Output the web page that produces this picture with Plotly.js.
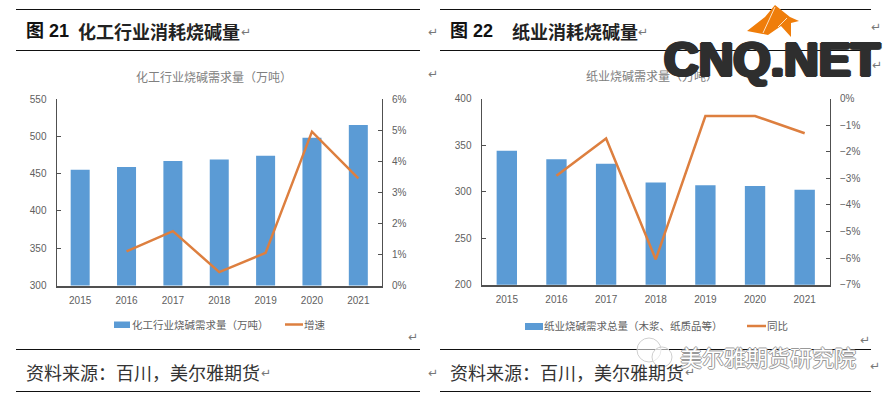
<!DOCTYPE html>
<html><head><meta charset="utf-8">
<script src="https://cdn.plot.ly/plotly-3.0.1.min.js"></script>
<style>html,body{margin:0;padding:0;background:#fff}#c{width:883px;height:395px}</style></head>
<body><div id="c"></div>
<script>
const years = ['2015','2016','2017','2018','2019','2020','2021'];
const chemDemand = [455,459,467,469,474,498,515];
const chemGrowth = [null,1.1,1.75,0.43,1.05,4.95,3.45];
const paperDemand = [344,335,330,310,307,306,302];
const paperYoy = [null,-2.9,-1.5,-6.05,-0.65,-0.65,-1.3];
const W=883,H=395;
const BLUE='#5b9bd5',ORANGE='#dd7f3f',AX='#505050',TXT='#606060';
const F='"Liberation Sans","Noto Sans CJK SC",sans-serif';
const CJK='"Noto Sans CJK SC","Liberation Sans",sans-serif';
const px=x=>x/W, py=y=>1-y/H;
function note(text,x,y,size,color,o){
  return Object.assign({text,x:px(x),y:py(y),xref:'paper',yref:'paper',showarrow:false,xanchor:'left',yanchor:'middle',
    font:{family:CJK,size,color},borderpad:0,borderwidth:0},o||{});
}
function line(x0,y0,x1,y1,color,width){
  return {type:'line',xref:'paper',yref:'paper',x0:px(x0),x1:px(x1),y0:py(y0),y1:py(y1),line:{color,width},layer:'below'};
}
function rect(x0,y0,x1,y1,color){
  return {type:'rect',xref:'paper',yref:'paper',x0:px(x0),x1:px(x1),y0:py(y0),y1:py(y1),fillcolor:color,line:{width:0},layer:'below'};
}
function poly(pts,fill,lineColor,lw){
  const d=pts.map((p,i)=>(i?'L':'M')+px(p[0]).toFixed(5)+','+py(p[1]).toFixed(5)).join(' ')+(fill?' Z':'');
  return {type:'path',xref:'paper',yref:'paper',path:d,fillcolor:fill||'rgba(0,0,0,0)',line:{color:lineColor||fill,width:lw||0},layer:'above'};
}
function circ(cx,cy,r,color){
  return {type:'circle',xref:'paper',yref:'paper',x0:px(cx-r),x1:px(cx+r),y0:py(cy+r),y1:py(cy-r),
    fillcolor:'rgba(255,255,255,0.55)',line:{color,width:1},layer:'above'};
}
const traces=[
 {type:'bar',x:years,y:chemDemand,name:'化工行业烧碱需求量（万吨）',marker:{color:BLUE},xaxis:'x',yaxis:'y',showlegend:false},
 {type:'scatter',mode:'lines',x:years,y:chemGrowth,name:'增速',line:{color:ORANGE,width:2.5},xaxis:'x',yaxis:'y2',showlegend:false},
 {type:'bar',x:years,y:paperDemand,name:'纸业烧碱需求总量（木浆、纸质品等）',marker:{color:BLUE},xaxis:'x2',yaxis:'y3',showlegend:false},
 {type:'scatter',mode:'lines',x:years,y:paperYoy,name:'同比',line:{color:ORANGE,width:2.5},xaxis:'x2',yaxis:'y4',showlegend:false}
];
const tick={family:F,size:10,color:TXT};
function xa(a,b,anchor){return {domain:[px(a),px(b)],anchor,type:'category',showgrid:false,zeroline:false,showline:true,linecolor:AX,linewidth:2,
  ticks:'',tickfont:tick,ticklabelstandoff:4,fixedrange:true};}
function ya(top,bot,range,dtick,side,anchor,extra){return Object.assign({domain:[py(bot),py(top)],range,dtick,anchor,side,showgrid:false,zeroline:false,showline:true,
  linecolor:AX,linewidth:1.5,ticks:'inside',ticklen:4,tickwidth:1,tickcolor:AX,tickfont:tick,ticklabelstandoff:7,fixedrange:true},extra||{});}
const layout={
 width:W,height:H,margin:{l:0,r:0,t:0,b:0},paper_bgcolor:'#fff',plot_bgcolor:'rgba(0,0,0,0)',bargap:0.59,showlegend:false,
 xaxis:xa(57,381.5,'y'),
 yaxis:ya(99,285.5,[300,550],50,'left','x'),
 yaxis2:ya(99,285.5,[0,6],1,'right','x',{overlaying:'y',ticksuffix:'%'}),
 xaxis2:xa(482,829.5,'y3'),
 yaxis3:ya(98.7,284.7,[200,400],50,'left','x2'),
 yaxis4:ya(98.7,284.7,[-7,0],1,'right','x2',{overlaying:'y3',ticksuffix:'%'}),
 shapes:[
  line(16,9.5,420,9.5,'#111',1),line(16,50.5,420,50.5,'#111',1),line(16,349.5,420,349.5,'#111',1),line(16,391.5,420,391.5,'#111',1),
  line(440,9.5,871,9.5,'#111',1),line(440,50.5,871,50.5,'#111',1),line(440,349.5,871,349.5,'#111',1),line(440,391.5,871,391.5,'#111',1),
  rect(114,321.5,130,328,BLUE),line(285,324.5,303,324.5,ORANGE,2.5),
  rect(525,323,543,330,BLUE),line(747,326,766,326,ORANGE,2.5),
  poly([[775,5],[790,17],[799,21],[791,23],[791,37],[781,26],[768,35],[747,31],[765,17]],'#ef7d0a'),
  poly([[775,7],[763,33]],null,'#fbe3c8',1),
  poly([[787,18],[778,27]],null,'#fbe3c8',1),
  circ(649,350,12,'#cfcfcf'),circ(662,357,10,'#cfcfcf')
 ],
 annotations:[
  note('图 21',26,31,18,'#111',{font:{family:F,size:18,color:'#111',weight:700}}),
  note('化工行业消耗烧碱量',78,31,18,'#222',{font:{family:CJK,size:18,color:'#222',weight:700}}),
  note('图 22',450,31,18,'#111',{font:{family:F,size:18,color:'#111',weight:700}}),
  note('纸业消耗烧碱量',512,31,18,'#222',{font:{family:CJK,size:18,color:'#222',weight:700}}),
  note('化工行业烧碱需求量（万吨）',214,76,12,'#808080',{xanchor:'center'}),
  note('纸业烧碱需求量（万吨）',652,75,12,'#808080',{xanchor:'center'}),
  note('化工行业烧碱需求量（万吨）',132,324,10.5,TXT),
  note('增速',303.5,324,10.5,TXT),
  note('纸业烧碱需求总量（木浆、纸质品等）',544,325.5,10.5,TXT),
  note('同比',767,325.5,10.5,TXT),
  note('资料来源：百川，美尔雅期货',26,372,18,'#333'),
  note('资料来源：百川，美尔雅期货',450,372,18,'#333'),
  ...[[246,32],[433,32],[433,74],[413,337],[266,373],[433,373],[643,32],[876,27],[877,65],[865,340],[690,372],[875,366]]
    .map(p=>note('↵',p[0]-5,p[1],12,'#777',{font:{family:'"DejaVu Sans"',size:12,color:'#777'}})),
  note('CNQ.NET',664,59.5,48,'#2e2e2e',{font:{family:'"Liberation Sans"',size:48,color:'#2e2e2e',weight:700,
     shadow:'2px 0 0 #2e2e2e,-2px 0 0 #2e2e2e,0 1px 0 #2e2e2e,0 -1px 0 #2e2e2e,1px 1px 0 #2e2e2e,-1px -1px 0 #2e2e2e,1px -1px 0 #2e2e2e,-1px 1px 0 #2e2e2e'}}),
  note('美尔雅期货研究院',680,356,22,'#ffffff',{font:{family:CJK,size:22,color:'#ffffff',
     shadow:'1px 0 0 #999,-1px 0 0 #999,0 1px 0 #999,0 -1px 0 #999'}})
 ]
};
Plotly.newPlot('c',traces,layout,{staticPlot:true,displayModeBar:false});
</script></body></html>
